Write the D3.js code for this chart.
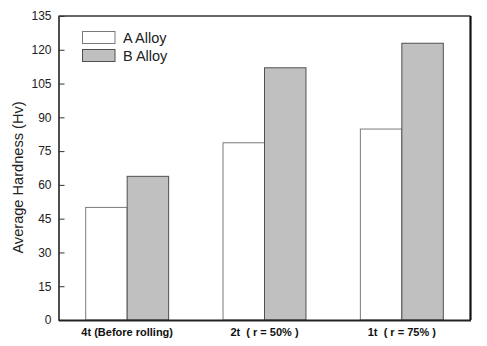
<!DOCTYPE html>
<html><head><meta charset="utf-8">
<script src="https://cdn.jsdelivr.net/npm/d3@7"></script>
<style>body{margin:0;background:#fff}svg{display:block}text{font-family:"Liberation Sans",Arial,sans-serif}</style>
</head><body>
<svg id="c" width="487" height="346"></svg>
<script>
const categories = ["4t (Before rolling)", "2t  ( r = 50% )", "1t  ( r = 75% )"];
const seriesNames = ["A Alloy", "B Alloy"];
const alloyA = [50.0, 78.7, 84.8];
const alloyB = [63.8, 112.0, 122.9];
const yTicks = [0, 15, 30, 45, 60, 75, 90, 105, 120, 135];

const svg = d3.select("#c");
const L = 58.5, R = 470.5, T = 16, B = 320;
const x = d3.scaleBand().domain(categories).range([L, R]).paddingInner(0.396).paddingOuter(0.198);
const xs = d3.scaleBand().domain(seriesNames).range([0, x.bandwidth()]);
const y = d3.scaleLinear().domain([0, 135]).range([B, T]);
const fills = ["#ffffff", "#c0c0c0"];
const strokes = ["#7a7a7a", "#505050"];

const data = categories.map((c, i) => ({c, vals: [alloyA[i], alloyB[i]]}));
const g = svg.append("g");
data.forEach(d => {
  d.vals.forEach((v, j) => {
    g.append("rect")
      .attr("x", x(d.c) + xs(seriesNames[j]))
      .attr("y", y(v))
      .attr("width", xs.bandwidth())
      .attr("height", y(0) - y(v))
      .attr("fill", fills[j]).attr("stroke", strokes[j]).attr("stroke-width", 1);
  });
});

// frame
svg.append("line").attr("x1", L).attr("x2", R).attr("y1", T).attr("y2", T).attr("stroke", "#333").attr("stroke-width", 1.5);
svg.append("line").attr("x1", R).attr("x2", R).attr("y1", T).attr("y2", B).attr("stroke", "#111").attr("stroke-width", 2.2);

// y axis
const ya = svg.append("g").attr("transform", `translate(${L},0)`)
  .call(d3.axisLeft(y).tickValues(yTicks).tickSizeInner(-6).tickSizeOuter(0).tickPadding(7));
ya.select(".domain").attr("stroke", "#222").attr("stroke-width", 1.6);
ya.selectAll(".tick line").attr("stroke", "#333");
ya.selectAll("text").attr("font-size", 12).attr("fill", "#222").attr("font-family", '"Liberation Sans",Arial,sans-serif');

// x axis
const xa = svg.append("g").attr("transform", `translate(0,${B})`)
  .call(d3.axisBottom(x).tickSize(0).tickPadding(8));
xa.select(".domain").attr("stroke", "#222").attr("stroke-width", 2.2);
xa.selectAll("text").attr("font-size", 11).attr("font-weight", "bold").attr("fill", "#111")
  .attr("font-family", '"Liberation Sans",Arial,sans-serif').style("white-space", "pre");

// y label
svg.append("text").attr("transform", `translate(23,177.5) rotate(-90)`)
  .attr("text-anchor", "middle").attr("font-size", 14.6).attr("fill", "#222").text("Average Hardness (Hv)");

// legend
seriesNames.forEach((n, j) => {
  const ly = 31.5 + j * 18;
  svg.append("rect").attr("x", 82.5).attr("y", ly).attr("width", 32.5).attr("height", 12)
    .attr("fill", fills[j]).attr("stroke", strokes[j]);
  svg.append("text").attr("x", 123).attr("y", ly + 11).attr("font-size", 14.5).attr("fill", "#222").text(n);
});
</script>
</body></html>
